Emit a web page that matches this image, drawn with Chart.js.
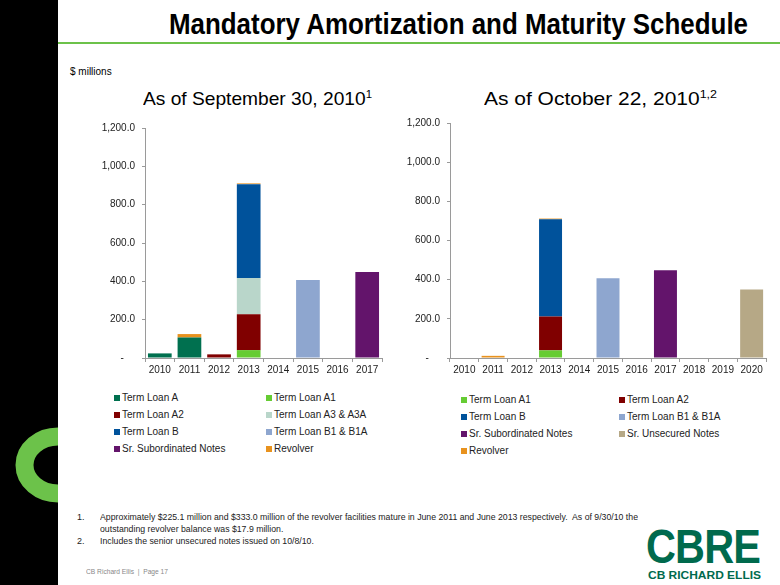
<!DOCTYPE html>
<html><head><meta charset="utf-8">
<script src="https://cdn.jsdelivr.net/npm/chart.js@4.4.1/dist/chart.umd.min.js"></script>
<style>
body{margin:0;width:780px;height:585px;position:relative;overflow:hidden;background:#fff;font-family:"Liberation Sans",Arial,sans-serif;color:#111;}
.abs{position:absolute;white-space:nowrap;}
#blackbar{left:0;top:0;width:58px;height:585px;background:#000;overflow:hidden;}
#greenline{left:58px;top:42px;width:722px;height:2px;background:#6cc24a;}
#title{left:169px;top:8px;font-size:29px;font-weight:bold;color:#000;transform-origin:0 0;}
#units{left:70px;top:66px;font-size:10px;color:#000;}
.sub{font-size:18.5px;color:#000;transform-origin:0 0;}
.sub sup{font-size:11px;vertical-align:0;position:relative;top:-7px;}
.legend{display:grid;font-size:10px;color:#222;}
.legend .it{display:flex;align-items:center;height:17px;}
.legend .sw{width:6px;height:6px;margin-right:2px;flex:none;}
.fn{font-size:9px;color:#222;transform-origin:0 0;}
#footer{left:86px;top:567px;font-size:8px;color:#888;transform-origin:0 0;}
#cbre{left:646px;top:523px;font-size:48px;font-weight:bold;color:#006a4d;letter-spacing:-1px;transform-origin:0 0;line-height:1;}
#cbre2{left:648px;top:569px;font-size:11px;font-weight:bold;color:#006a4d;transform-origin:0 0;}
canvas{position:absolute;}
</style></head>
<body>
<div id="blackbar" class="abs">
  <svg style="position:absolute;left:0;top:0" width="58" height="585">
    <ellipse cx="58" cy="465" rx="33.5" ry="28.5" fill="none" stroke="#6cc24a" stroke-width="18"/>
  </svg>
</div>
<div id="greenline" class="abs"></div>
<div id="title" class="abs">Mandatory Amortization and Maturity Schedule</div>
<div id="units" class="abs">$ millions</div>
<div id="sub1" class="abs sub" style="left:143px;top:88px;">As of September 30, 2010<sup>1</sup></div>
<div id="sub2" class="abs sub" style="left:484px;top:88px;">As of October 22, 2010<sup>1,2</sup></div>

<canvas id="c1" width="300" height="260" style="left:90px;top:115px;width:300px;height:260px"></canvas>
<canvas id="c2" width="380" height="265" style="left:395px;top:110px;width:380px;height:265px"></canvas>

<div id="leg1" class="abs legend" style="left:114px;top:389px;grid-template-columns:152px 140px;"></div>
<div id="leg2" class="abs legend" style="left:461px;top:391px;grid-template-columns:158px 150px;"></div>

<div class="abs fn" style="left:77px;top:512px;">1.</div>
<div id="fn1" class="abs fn" style="left:100px;top:512px;">Approximately $225.1 million and $333.0 million of the revolver facilities mature in June 2011 and June 2013 respectively.&nbsp; As of 9/30/10 the</div>
<div id="fn1b" class="abs fn" style="left:100px;top:524px;">outstanding revolver balance was $17.9 million.</div>
<div class="abs fn" style="left:77px;top:536px;">2.</div>
<div id="fn2" class="abs fn" style="left:100px;top:536px;">Includes the senior unsecured notes issued on 10/8/10.</div>
<div id="footer" class="abs">CB Richard Ellis&nbsp; |&nbsp; Page 17</div>
<div id="cbre" class="abs">CBRE</div>
<div id="cbre2" class="abs">CB RICHARD ELLIS</div>

<script>
// ---------- DATA ----------
const yTickValues = [0, 200, 400, 600, 800, 1000, 1200];

const yearsSep = ['2010','2011','2012','2013','2014','2015','2016','2017'];
const sepTermLoanA   = [24, 107, null, null, null, null, null, null];
const sepTermLoanA1  = [null, null, null, 41, null, null, null, null];
const sepTermLoanA2  = [null, null, 19, 187, null, null, null, null];
const sepTermLoanA3  = [null, null, null, 189, null, null, null, null];
const sepTermLoanB   = [null, null, null, 490, null, null, null, null];
const sepTermLoanB1  = [null, null, null, null, null, 407, null, null];
const sepSrSubNotes  = [null, null, null, null, null, null, null, 449];
const sepRevolver    = [null, 17.9, null, 4, null, null, null, null];

const yearsOct = ['2010','2011','2012','2013','2014','2015','2016','2017','2018','2019','2020'];
const octTermLoanA1  = [null, null, null, 39, null, null, null, null, null, null, null];
const octTermLoanA2  = [null, null, null, 173, null, null, null, null, null, null, null];
const octTermLoanB   = [null, null, null, 496, null, null, null, null, null, null, null];
const octTermLoanB1  = [null, null, null, null, null, 407, null, null, null, null, null];
const octSrSubNotes  = [null, null, null, null, null, null, null, 448, null, null, null];
const octSrUnsecured = [null, null, null, null, null, null, null, null, null, null, 350];
const octRevolver    = [null, 11, null, 4, null, null, null, null, null, null, null];

// ---------- STYLE ----------
const COL = {
  tla:'#00704f', tla1:'#66cc33', tla2:'#800000', tla3:'#b9d6ca',
  tlb:'#00529b', tlb1:'#8ea6cf', srsub:'#63146b', srunsec:'#b6a886', rev:'#e8921e'
};
function ds(label, data, color){
  return {label, data, backgroundColor:color, borderWidth:0, barPercentage:0.8, categoryPercentage:1.0};
}

function fitWidth(id, w){
  const el = document.getElementById(id);
  const cw = el.getBoundingClientRect().width;
  el.style.transform = 'scaleX(' + (w / cw) + ')';
}
fitWidth('title', 579);
fitWidth('sub1', 229);
fitWidth('sub2', 233);
fitWidth('cbre', 114);
fitWidth('cbre2', 113);
fitWidth('fn1', 538);
const fnScale = 538 / 555;
['fn1b','fn2'].forEach(id => document.getElementById(id).style.transform = 'scaleX(' + fnScale + ')');
fitWidth('footer', 82);

const FONT = {family:'"Liberation Sans", Arial, sans-serif', size:10};

function makeChart(id, labels, datasets, padTop, padRight){
  return new Chart(document.getElementById(id), {
    type:'bar',
    data:{labels, datasets},
    options:{
      responsive:false, animation:false, devicePixelRatio:1,
      layout:{padding:{top:padTop, right:padRight, left:0, bottom:0}},
      plugins:{legend:{display:false}, tooltip:{enabled:false}},
      scales:{
        x:{
          stacked:true,
          grid:{display:true, drawOnChartArea:false, tickLength:4, color:'#9a9a9a', lineWidth:1},
          border:{color:'#9a9a9a', width:1},
          ticks:{font:FONT, color:'#222', padding:2, maxRotation:0, autoSkip:false},
          afterFit(s){ s.height = 17; }
        },
        y:{
          stacked:true, min:0, max:1200,
          afterBuildTicks(axis){ axis.ticks = yTickValues.map(v => ({value:v})); },
          grid:{display:true, drawOnChartArea:false, tickLength:3, color:'#9a9a9a'},
          border:{color:'#9a9a9a', width:1},
          ticks:{
            font:FONT, color:'#222', padding:7,
            callback(v){ return v === 0 ? '-    ' : Number(v).toLocaleString('en-US',{minimumFractionDigits:1, maximumFractionDigits:1}); }
          },
          afterFit(s){ s.width = 55; }
        }
      }
    }
  });
}

const chart1 = makeChart('c1', yearsSep, [
  ds('Term Loan A', sepTermLoanA, COL.tla),
  ds('Term Loan A1', sepTermLoanA1, COL.tla1),
  ds('Term Loan A2', sepTermLoanA2, COL.tla2),
  ds('Term Loan A3 & A3A', sepTermLoanA3, COL.tla3),
  ds('Term Loan B', sepTermLoanB, COL.tlb),
  ds('Term Loan B1 & B1A', sepTermLoanB1, COL.tlb1),
  ds('Sr. Subordinated Notes', sepSrSubNotes, COL.srsub),
  ds('Revolver', sepRevolver, COL.rev)
], 11, 8);

const chart2 = makeChart('c2', yearsOct, [
  ds('Term Loan A1', octTermLoanA1, COL.tla1),
  ds('Term Loan A2', octTermLoanA2, COL.tla2),
  ds('Term Loan B', octTermLoanB, COL.tlb),
  ds('Term Loan B1 & B1A', octTermLoanB1, COL.tlb1),
  ds('Sr. Subordinated Notes', octSrSubNotes, COL.srsub),
  ds('Sr. Unsecured Notes', octSrUnsecured, COL.srunsec),
  ds('Revolver', octRevolver, COL.rev)
], 13, 9);

function buildLegend(chart, id){
  const el = document.getElementById(id);
  chart.data.datasets.forEach(d => {
    const it = document.createElement('div'); it.className = 'it';
    const sw = document.createElement('span'); sw.className = 'sw'; sw.style.background = d.backgroundColor;
    const tx = document.createElement('span'); tx.textContent = d.label;
    it.appendChild(sw); it.appendChild(tx); el.appendChild(it);
  });
}
buildLegend(chart1, 'leg1');
buildLegend(chart2, 'leg2');
</script>
</body></html>
